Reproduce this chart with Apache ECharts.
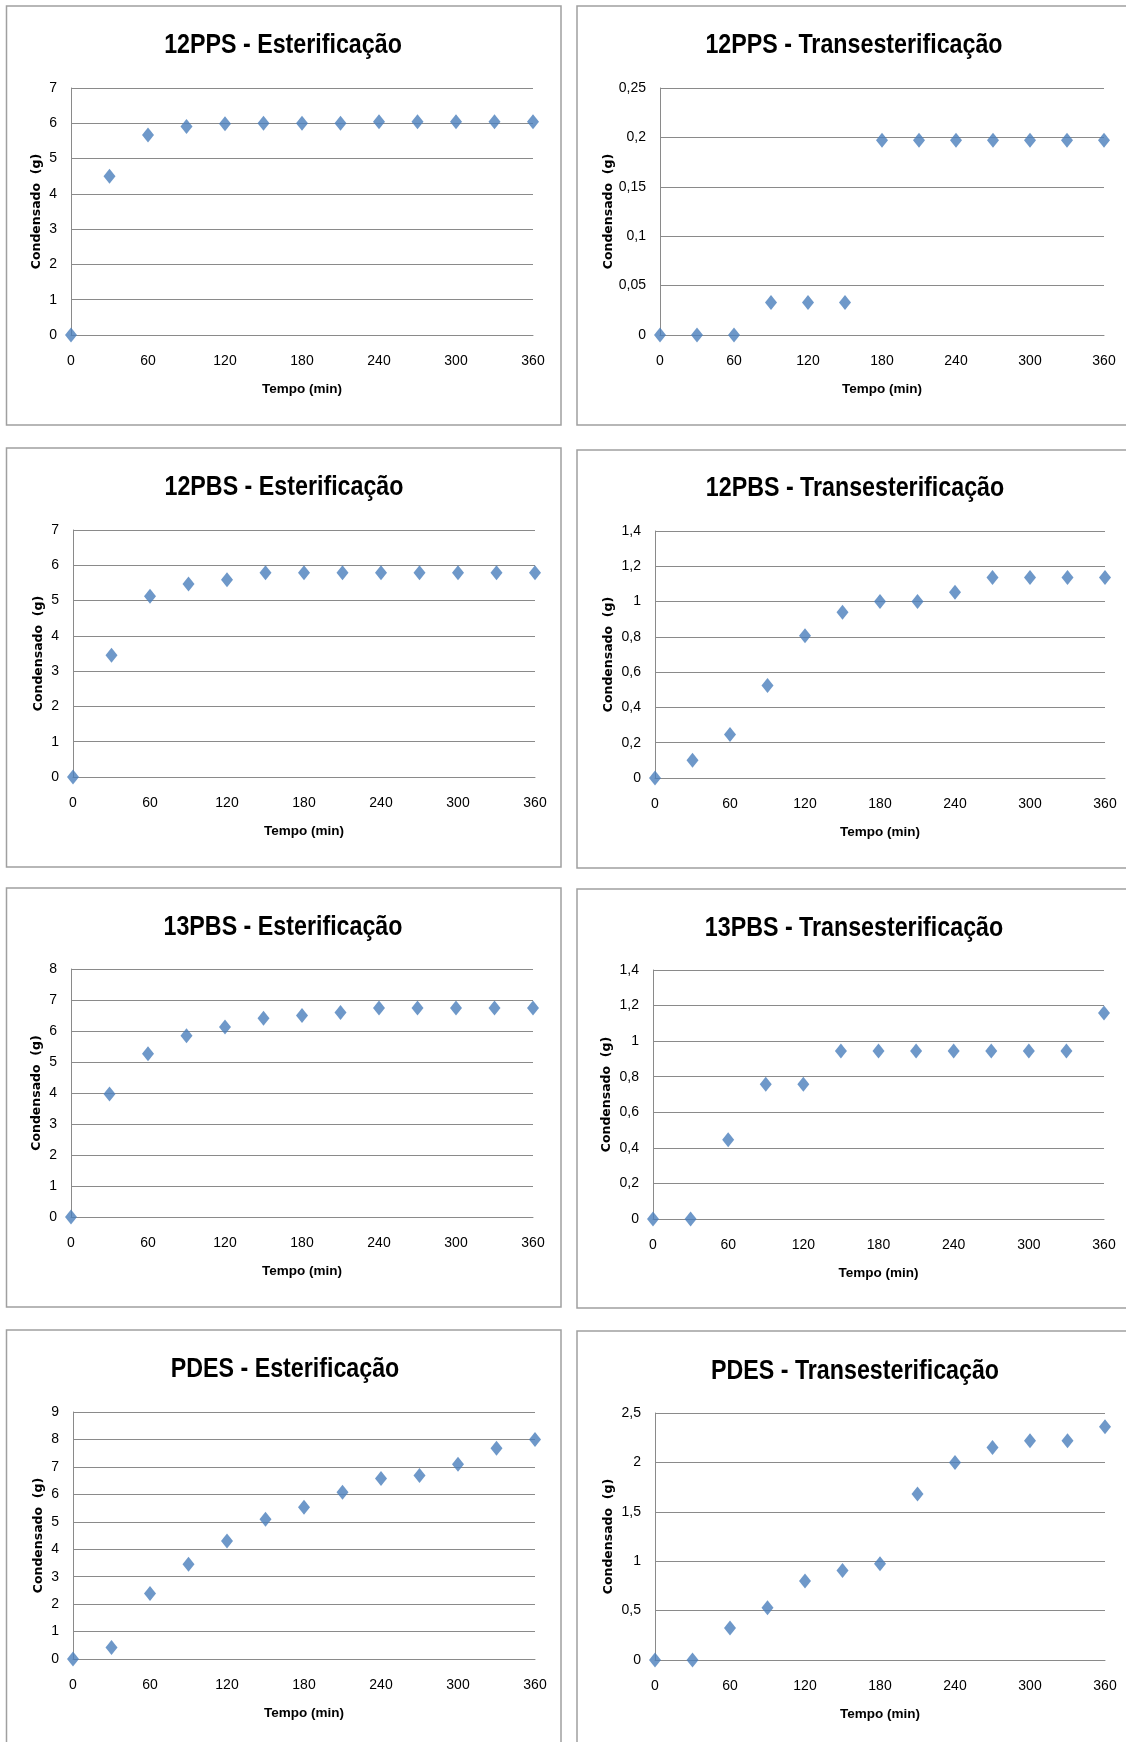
<!DOCTYPE html>
<html>
<head>
<meta charset="utf-8">
<script src="https://cdn.jsdelivr.net/npm/echarts@6/dist/echarts.min.js"></script>
<style>
html,body{margin:0;padding:0;background:#fff;}
#chart{width:1126px;height:1742px;}
</style>
</head>
<body>
<div id="chart"></div>
<script>
// ---- data ----
const minutes = [0, 30, 60, 90, 120, 150, 180, 210, 240, 270, 300, 330, 360];
const est12PPS   = [0, 4.5, 5.67, 5.91, 5.99, 6.0, 6.0, 6.0, 6.04, 6.04, 6.04, 6.04, 6.04];
const trans12PPS = [0, 0, 0, 0.033, 0.033, 0.033, 0.197, 0.197, 0.197, 0.197, 0.197, 0.197, 0.197];
const est12PBS   = [0, 3.45, 5.12, 5.47, 5.59, 5.79, 5.79, 5.79, 5.79, 5.79, 5.79, 5.79, 5.79];
const trans12PBS = [0, 0.1, 0.247, 0.525, 0.806, 0.94, 1.0, 1.0, 1.053, 1.136, 1.136, 1.136, 1.136];
const est13PBS   = [0, 3.97, 5.27, 5.85, 6.13, 6.41, 6.5, 6.6, 6.74, 6.74, 6.74, 6.74, 6.74];
const trans13PBS = [0, 0, 0.445, 0.757, 0.757, 0.945, 0.945, 0.945, 0.945, 0.945, 0.945, 0.945, 1.158];
const estPDES    = [0, 0.42, 2.39, 3.45, 4.3, 5.09, 5.53, 6.08, 6.58, 6.69, 7.1, 7.68, 8.0];
const transPDES  = [0, 0, 0.324, 0.53, 0.8, 0.905, 0.973, 1.68, 2.0, 2.15, 2.22, 2.22, 2.36];

const chartTitles = [
  '12PPS - Esterificação', '12PPS - Transesterificação',
  '12PBS - Esterificação', '12PBS - Transesterificação',
  '13PBS - Esterificação', '13PBS - Transesterificação',
  'PDES - Esterificação', 'PDES - Transesterificação'
];
const seriesList = [est12PPS, trans12PPS, est12PBS, trans12PBS, est13PBS, trans13PBS, estPDES, transPDES];
const yMaxList  = [7, 0.25, 7, 1.4, 8, 1.4, 9, 2.5];
const yStepList = [1, 0.05, 1, 0.2, 1, 0.2, 1, 0.5];
const xAxisName = 'Tempo (min)';
const yAxisName = 'Condensado  (g)';

// ---- layout ----
const gridsPos = [
  {left: 71,  top: 88,   width: 462, height: 247},
  {left: 660, top: 88,   width: 444, height: 247},
  {left: 73,  top: 530,  width: 462, height: 247},
  {left: 655, top: 531,  width: 450, height: 247},
  {left: 71,  top: 969,  width: 462, height: 248},
  {left: 653, top: 970,  width: 451, height: 249},
  {left: 73,  top: 1412, width: 462, height: 247},
  {left: 655, top: 1413, width: 450, height: 247}
];
const titleCenters = [
  [283, 45], [854, 45], [284, 487], [855, 488],
  [283, 927], [854, 928], [285, 1369], [855, 1371]
];
const yNameGaps = [28, 45, 28, 40, 28, 40, 28, 40];
const panelRects = [
  [6.5, 6, 554.5, 419], [577, 6, 560, 419],
  [6.5, 448, 554.5, 419], [577, 450, 560, 418],
  [6.5, 888, 554.5, 419], [577, 889, 560, 419],
  [6.5, 1330, 554.5, 430], [577, 1331, 560, 430]
];

const gray = '#8a8a8a';
const sans = 'Liberation Sans';
const fmt = v => String(+v.toFixed(2)).replace('.', ',');

const borders = panelRects.map(r => ({
  type: 'rect', silent: true, z: -1,
  shape: {x: r[0], y: r[1], width: r[2], height: r[3]},
  style: {fill: '#fff', stroke: '#a0a0a0', lineWidth: 1.5}
}));
const titleTexts = chartTitles.map((t, i) => ({
  type: 'text', silent: true, z: 10,
  x: titleCenters[i][0], y: titleCenters[i][1],
  scaleX: 0.83, scaleY: 1,
  style: {
    text: t, fill: '#000',
    font: 'bold 28px "Liberation Sans"',
    textAlign: 'center', textVerticalAlign: 'middle'
  }
}));

const option = {
  animation: false,
  backgroundColor: '#fff',
  graphic: borders.concat(titleTexts),
  grid: gridsPos.map(g => Object.assign({containLabel: false}, g)),
  xAxis: gridsPos.map((g, i) => ({
    type: 'value', gridIndex: i, min: 0, max: 360, interval: 60,
    name: xAxisName, nameLocation: 'middle', nameGap: 47,
    nameTextStyle: {fontFamily: sans, fontWeight: 'bold', fontSize: 13.5, color: '#000'},
    axisLine: {show: true, lineStyle: {color: gray, width: 1}},
    axisTick: {show: false},
    splitLine: {show: false},
    axisLabel: {margin: 19, fontFamily: sans, fontSize: 14, color: '#000'}
  })),
  yAxis: gridsPos.map((g, i) => ({
    type: 'value', gridIndex: i, min: 0, max: yMaxList[i], interval: yStepList[i],
    name: yAxisName, nameLocation: 'middle', nameGap: yNameGaps[i], nameRotate: 90,
    nameTextStyle: {fontFamily: 'DejaVu Sans', fontWeight: 'bold', fontSize: 12.5, color: '#000'},
    axisLine: {show: true, lineStyle: {color: gray, width: 1}},
    axisTick: {show: false},
    splitLine: {show: true, lineStyle: {color: gray, width: 1}},
    axisLabel: {margin: 14, fontFamily: sans, fontSize: 14, color: '#000', formatter: fmt}
  })),
  series: seriesList.map((s, i) => ({
    type: 'scatter', xAxisIndex: i, yAxisIndex: i,
    symbol: 'diamond', symbolSize: [12, 15], clip: false,
    itemStyle: {color: '#4a7ebb'},
    data: minutes.map((m, k) => [m, s[k]])
  }))
};

const chart = echarts.init(document.getElementById('chart'), null, {renderer: 'canvas'});
chart.setOption(option);
</script>
</body>
</html>
